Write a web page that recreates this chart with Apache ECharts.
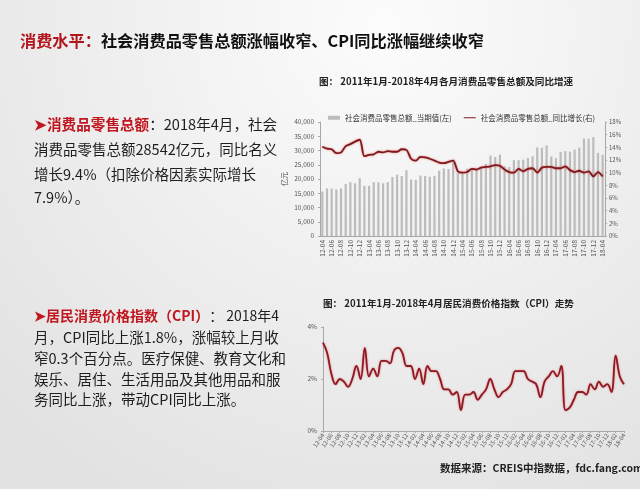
<!DOCTYPE html>
<html><head><meta charset="utf-8">
<script src="https://cdn.jsdelivr.net/npm/echarts@6/dist/echarts.min.js"></script>
<style>html,body{margin:0;padding:0;}#c{width:640px;height:489px;}</style>
</head><body><div id="c"></div>
<script>
// ---- data: retail sales chart ----
const retailMonths = ['12-04','12-05','12-06','12-07','12-08','12-09','12-10','12-11','12-12',
 '13-03','13-04','13-05','13-06','13-07','13-08','13-09','13-10','13-11','13-12',
 '14-03','14-04','14-05','14-06','14-07','14-08','14-09','14-10','14-11','14-12',
 '15-03','15-04','15-05','15-06','15-07','15-08','15-09','15-10','15-11','15-12',
 '16-03','16-04','16-05','16-06','16-07','16-08','16-09','16-10','16-11','16-12',
 '17-03','17-04','17-05','17-06','17-07','17-08','17-09','17-10','17-11','17-12',
 '18-03','18-04'];
const retailValue = [15600,16700,16600,16300,16700,18200,18900,18500,20300,
 17600,17600,18900,18800,18500,18900,20700,21500,21000,23100,
 19800,19700,21200,21100,20800,21100,22900,23700,23500,25800,
 22000,21800,23600,23500,23200,23600,25300,28200,27700,28600,
 24500,24200,26600,26600,26800,27400,28000,31100,31000,31800,
 27900,27300,29500,29800,29600,30300,31000,34200,34100,34700,
 29200,28500];
const retailGrowth = [14.1,13.8,13.7,13.1,13.2,14.2,14.5,14.9,15.2,
 12.6,12.8,12.9,13.3,13.2,13.4,13.3,13.3,13.7,13.6,
 12.2,11.9,12.5,12.4,12.2,11.9,11.6,11.5,11.7,11.9,
 10.2,10.0,10.1,10.6,10.5,10.8,10.9,11.0,11.2,11.1,
 10.5,10.1,10.0,10.6,10.2,10.6,10.7,10.0,10.8,10.9,
 10.9,10.7,10.7,11.0,10.4,10.1,10.3,10.0,10.2,9.4,
 10.1,9.4];
const retailSeriesNames = ['社会消费品零售总额_当期值(左)','社会消费品零售总额_同比增长(右)'];

// ---- data: CPI chart ----
const cpiMonths = ['12-04','12-05','12-06','12-07','12-08','12-09','12-10','12-11','12-12',
 '13-01','13-02','13-03','13-04','13-05','13-06','13-07','13-08','13-09','13-10','13-11','13-12',
 '14-01','14-02','14-03','14-04','14-05','14-06','14-07','14-08','14-09','14-10','14-11','14-12',
 '15-01','15-02','15-03','15-04','15-05','15-06','15-07','15-08','15-09','15-10','15-11','15-12',
 '16-01','16-02','16-03','16-04','16-05','16-06','16-07','16-08','16-09','16-10','16-11','16-12',
 '17-01','17-02','17-03','17-04','17-05','17-06','17-07','17-08','17-09','17-10','17-11','17-12',
 '18-01','18-02','18-03','18-04'];
const cpiValue = [3.4,3.0,2.2,1.8,2.0,1.9,1.7,2.0,2.5,
 2.0,3.2,2.1,2.4,2.1,2.7,2.7,2.6,3.1,3.2,3.0,2.5,
 2.5,2.0,2.4,1.8,2.5,2.3,2.3,2.0,1.6,1.6,1.4,1.5,
 0.8,1.4,1.4,1.5,1.2,1.4,1.6,2.0,1.6,1.3,1.5,1.6,
 1.8,2.3,2.3,2.3,2.0,1.9,1.8,1.3,1.9,2.1,2.3,2.1,
 2.5,0.8,0.9,1.2,1.5,1.5,1.4,1.8,1.6,1.9,1.7,1.8,
 1.5,2.9,2.1,1.8];

// ---- texts ----
const mainTitleRed = '消费水平：';
const mainTitleRest = '社会消费品零售总额涨幅收窄、CPI同比涨幅继续收窄';
const chart1Title = '图： 2011年1月-2018年4月各月消费品零售总额及同比增速';
const chart2Title = '图： 2011年1月-2018年4月居民消费价格指数（CPI）走势';
const sourceText = '数据来源：CREIS中指数据，fdc.fang.com';
const block1Head = '➤消费品零售总额';
const block1Lines = ['：2018年4月，社会','消费品零售总额28542亿元，同比名义','增长9.4%（扣除价格因素实际增长','7.9%）。'];
const block2Head = '➤居民消费价格指数（CPI）';
const block2Lines = ['： 2018年4','月，CPI同比上涨1.8%，涨幅较上月收','窄0.3个百分点。医疗保健、教育文化和','娱乐、居住、生活用品及其他用品和服','务同比上涨，带动CPI同比上涨。'];

const FONT = '"Noto Sans CJK SC","Noto Sans",sans-serif';
const RED = '#c0161f';
const TXT = '#1e1e1e';

function bodyLine(txt, y){
  return {type:'text', left:34, top:y-9, style:{text:txt, font:'14.5px '+FONT, fill:TXT}};
}
function headLine(head, rest, y, size){
  return {type:'text', left:34, top:y-9, style:{
    text:'{h|'+head+'}{n|'+rest+'}',
    rich:{h:{fontFamily:FONT,fontSize:size,fontWeight:'bold',fill:RED},
          n:{fontFamily:FONT,fontSize:size,fill:TXT}}}};
}
const b1y=[126,151,176,199], b2y=[318,339,360,381,401];
const graphics = [
  {type:'text', left:20, top:33, style:{
    text:'{r|'+mainTitleRed+'}{k|'+mainTitleRest+'}',
    rich:{r:{fontFamily:FONT,fontSize:16.2,fontWeight:'bold',fill:'#b3151d'},
          k:{fontFamily:FONT,fontSize:16.2,fontWeight:'bold',fill:'#111'}}}},
  headLine(block1Head, block1Lines[0], b1y[0], 14.6),
  bodyLine(block1Lines[1], b1y[1]), bodyLine(block1Lines[2], b1y[2]), bodyLine(block1Lines[3], b1y[3]),
  headLine(block2Head, block2Lines[0], b2y[0], 14),
  bodyLine(block2Lines[1], b2y[1]), bodyLine(block2Lines[2], b2y[2]), bodyLine(block2Lines[3], b2y[3]), bodyLine(block2Lines[4], b2y[4]),
  {type:'text', left:319, top:77, style:{text:chart1Title, font:'bold 9.6px '+FONT, fill:'#222'}},
  {type:'text', left:323, top:299, style:{text:chart2Title, font:'bold 9.6px '+FONT, fill:'#222'}},
  {type:'text', left:440, top:463, style:{text:sourceText, font:'bold 10.5px '+FONT, fill:'#222'}}
];

const axisGray = '#a8a8a8';
const lab = {fontFamily:FONT, fontSize:6.5, color:'#555'};
const chart = echarts.init(document.getElementById('c'));
chart.setOption({
  animation:false,
  backgroundColor:{type:'radial', x:0.6, y:0.05, r:1.1, colorStops:[{offset:0,color:'#fcfcfc'},{offset:1,color:'#e2e2e2'}]},
  textStyle:{fontFamily:FONT},
  graphic: graphics,
  legend:{left:323, top:109, itemWidth:12, itemHeight:4, itemGap:12,
    textStyle:{fontFamily:FONT, fontSize:7.5, color:'#333'},
    data:[{name:retailSeriesNames[0], icon:'rect'},{name:retailSeriesNames[1], icon:'path://M0,0H24V2H0Z'}]},
  grid:[{left:320, top:122, width:285, height:114},
        {left:323, top:327, right:16, height:104}],
  xAxis:[
    {type:'category', gridIndex:0, data:retailMonths, boundaryGap:true,
     axisLine:{lineStyle:{color:axisGray}}, axisTick:{show:false},
     axisLabel:{...lab, rotate:90, interval:1, margin:4}},
    {type:'category', gridIndex:1, data:cpiMonths, boundaryGap:false,
     axisLine:{lineStyle:{color:axisGray}}, axisTick:{show:true, interval:1, length:2, lineStyle:{color:axisGray}},
     axisLabel:{...lab, fontSize:6, rotate:55, interval:1, margin:3}}
  ],
  yAxis:[
    {type:'value', gridIndex:0, min:0, max:40000, interval:5000, name:'亿元', nameLocation:'middle', nameRotate:90, nameGap:32,
     nameTextStyle:{fontFamily:FONT, fontSize:7, color:'#444'},
     axisLine:{show:true, lineStyle:{color:axisGray}}, axisTick:{show:true, length:2}, splitLine:{show:false},
     axisLabel:{...lab, margin:6}},
    {type:'value', gridIndex:0, position:'right', min:0, max:18, interval:2,
     axisLine:{show:true, lineStyle:{color:axisGray}}, axisTick:{show:true, length:2}, splitLine:{show:false},
     axisLabel:{...lab, fontSize:6, margin:4, formatter:'{value}%'}},
    {type:'value', gridIndex:1, min:0, max:4, interval:2,
     axisLine:{show:true, lineStyle:{color:axisGray}}, axisTick:{show:true, length:2}, splitLine:{show:false},
     axisLabel:{...lab, margin:6, formatter:'{value}%'}}
  ],
  series:[
    {name:retailSeriesNames[0], type:'bar', xAxisIndex:0, yAxisIndex:0, data:retailValue, barWidth:2.2,
     itemStyle:{color:'#bcbcbc'}},
    {name:retailSeriesNames[1], type:'line', xAxisIndex:0, yAxisIndex:1, data:retailGrowth, symbol:'none', smooth:0.3,
     itemStyle:{color:'#7e1a1e'},
     lineStyle:{color:'#7e1a1e', width:1.8, shadowColor:'rgba(220,60,60,0.7)', shadowBlur:2}},
    {name:'CPI', type:'line', xAxisIndex:1, yAxisIndex:2, data:cpiValue, symbol:'none', smooth:0.4,
     lineStyle:{color:'#8a1a24', width:1.8, shadowColor:'rgba(230,70,70,0.7)', shadowBlur:2}}
  ]
});
</script></body></html>
